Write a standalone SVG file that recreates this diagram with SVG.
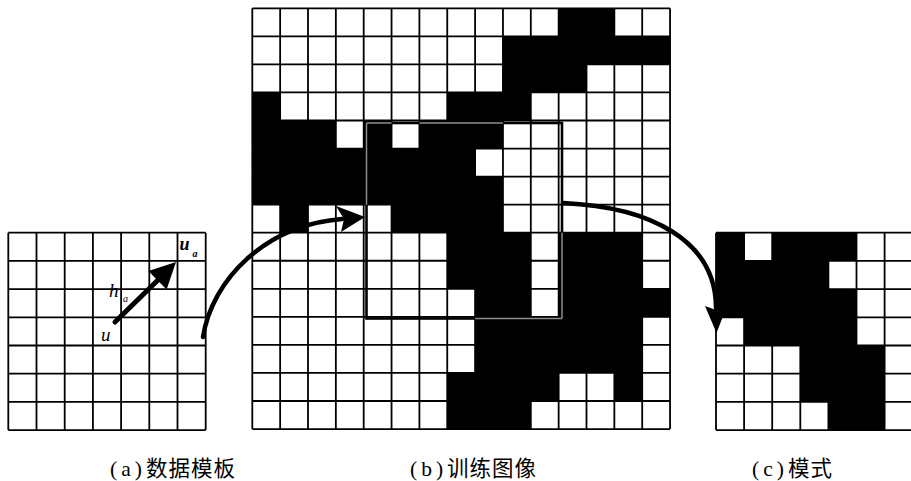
<svg xmlns="http://www.w3.org/2000/svg" width="911" height="481" viewBox="0 0 911 481">
<style>
.bg{fill:#ffffff}
.cell{fill:#000000}
.grid{fill:none;stroke:#000000;stroke-width:1.8}
.conn{fill:none;stroke:#000000;stroke-width:4.5;stroke-linecap:round}
.head{fill:#000000}
.selb{fill:none;stroke:#000000;stroke-width:2.6}
.selg{fill:none;stroke:#8c8c8c;stroke-width:1.5}
.sym{font-family:"Liberation Serif",serif;font-style:italic;fill:#000}
.cap{font-family:"Liberation Serif","Noto Sans CJK SC",serif;font-size:21.5px;fill:#000}
.p{letter-spacing:4px}
.c{letter-spacing:1px}
</style>
<rect class="bg" x="0" y="0" width="911" height="481"/>

<g id="template">
<path class="grid" d="M8.3,232.7V430.1 M36.5,232.7V430.1 M64.7,232.7V430.1 M92.9,232.7V430.1 M121.1,232.7V430.1 M149.3,232.7V430.1 M177.5,232.7V430.1 M205.7,232.7V430.1 M8.3,232.7H205.7 M8.3,260.9H205.7 M8.3,289.1H205.7 M8.3,317.3H205.7 M8.3,345.5H205.7 M8.3,373.7H205.7 M8.3,401.9H205.7 M8.3,430.1H205.7"/>
<line x1="115" y1="322" x2="158" y2="280" stroke="#000" stroke-width="5" stroke-linecap="round"/>
<polygon class="head" points="148.4,270.9 176,262 166.6,289.5"/>
<text class="sym" x="101" y="340.5" font-size="19">u</text>
<text class="sym" x="109" y="297" font-size="19">h</text>
<text class="sym" x="123" y="301.5" font-size="10">a</text>
<text class="sym" x="179.5" y="250" font-size="18" font-weight="bold">u</text>
<text class="sym" x="192.5" y="257" font-size="10" font-weight="bold">a</text>
</g>

<g id="training-image">
<rect class="cell" x="558.65" y="8.3" width="55.7" height="28.05"/>
<rect class="cell" x="502.95" y="36.35" width="167.1" height="28.05"/>
<rect class="cell" x="502.95" y="64.4" width="83.55" height="28.05"/>
<rect class="cell" x="252.3" y="92.45" width="27.85" height="28.05"/>
<rect class="cell" x="447.25" y="92.45" width="83.55" height="28.05"/>
<rect class="cell" x="252.3" y="120.5" width="83.55" height="28.05"/>
<rect class="cell" x="363.7" y="120.5" width="27.85" height="28.05"/>
<rect class="cell" x="419.4" y="120.5" width="83.55" height="28.05"/>
<rect class="cell" x="252.3" y="148.55" width="222.8" height="28.05"/>
<rect class="cell" x="252.3" y="176.6" width="250.65" height="28.05"/>
<rect class="cell" x="280.15" y="204.65" width="27.85" height="28.05"/>
<rect class="cell" x="391.55" y="204.65" width="111.4" height="28.05"/>
<rect class="cell" x="447.25" y="232.7" width="83.55" height="56.1"/>
<rect class="cell" x="558.65" y="232.7" width="83.55" height="56.1"/>
<rect class="cell" x="475.1" y="288.8" width="55.7" height="28.05"/>
<rect class="cell" x="558.65" y="288.8" width="111.4" height="28.05"/>
<rect class="cell" x="475.1" y="316.85" width="167.1" height="56.1"/>
<rect class="cell" x="447.25" y="372.95" width="111.4" height="28.05"/>
<rect class="cell" x="614.35" y="372.95" width="27.85" height="28.05"/>
<rect class="cell" x="447.25" y="401" width="83.55" height="28.05"/>
<path class="grid" d="M252.3,8.3V429.05 M280.15,8.3V429.05 M308,8.3V429.05 M335.85,8.3V429.05 M363.7,8.3V429.05 M391.55,8.3V429.05 M419.4,8.3V429.05 M447.25,8.3V429.05 M475.1,8.3V429.05 M502.95,8.3V429.05 M530.8,8.3V429.05 M558.65,8.3V429.05 M586.5,8.3V429.05 M614.35,8.3V429.05 M642.2,8.3V429.05 M670.05,8.3V429.05 M252.3,8.3H670.05 M252.3,36.35H670.05 M252.3,64.4H670.05 M252.3,92.45H670.05 M252.3,120.5H670.05 M252.3,148.55H670.05 M252.3,176.6H670.05 M252.3,204.65H670.05 M252.3,232.7H670.05 M252.3,260.75H670.05 M252.3,288.8H670.05 M252.3,316.85H670.05 M252.3,344.9H670.05 M252.3,372.95H670.05 M252.3,401H670.05 M252.3,429.05H670.05"/>
</g>

<g id="selection-window">
<rect class="selb" x="366.5" y="123" width="195.5" height="195.5"/>
<path class="selg" d="M366.5,123V204.65 M366.5,123H391.55 M419.4,123H502.95 M562,232.7V318.5 M475.1,318.5H562"/>
</g>

<g id="pattern">
<rect class="cell" x="716" y="232.7" width="28.1" height="28.2"/>
<rect class="cell" x="772.2" y="232.7" width="84.3" height="28.2"/>
<rect class="cell" x="716" y="260.9" width="112.4" height="28.2"/>
<rect class="cell" x="716" y="289.1" width="140.5" height="28.2"/>
<rect class="cell" x="744.1" y="317.3" width="112.4" height="28.2"/>
<rect class="cell" x="800.3" y="345.5" width="84.3" height="56.4"/>
<rect class="cell" x="828.4" y="401.9" width="56.2" height="28.2"/>
<path class="grid" d="M716,232.7V430.1 M744.1,232.7V430.1 M772.2,232.7V430.1 M800.3,232.7V430.1 M828.4,232.7V430.1 M856.5,232.7V430.1 M884.6,232.7V430.1 M912.7,232.7V430.1 M716,232.7H912.7 M716,260.9H912.7 M716,289.1H912.7 M716,317.3H912.7 M716,345.5H912.7 M716,373.7H912.7 M716,401.9H912.7 M716,430.1H912.7"/>
</g>

<g id="connectors">
<path class="conn" d="M203,337 C212,280 265,225 342,219"/>
<polygon class="head" points="336,206 365,217 341,232 344,219"/>
<path class="conn" d="M563,203 C650,207 716,240 716,308"/>
<polygon class="head" points="705,306 716.5,333 727,306 716,310"/>
</g>

<g id="captions">
<text class="cap" x="110" y="476"><tspan class="p">(a)</tspan><tspan class="c">数据模板</tspan></text>
<text class="cap" x="410" y="476"><tspan class="p">(b)</tspan><tspan class="c">训练图像</tspan></text>
<text class="cap" x="752" y="476"><tspan class="p">(c)</tspan><tspan class="c">模式</tspan></text>
</g>
</svg>
